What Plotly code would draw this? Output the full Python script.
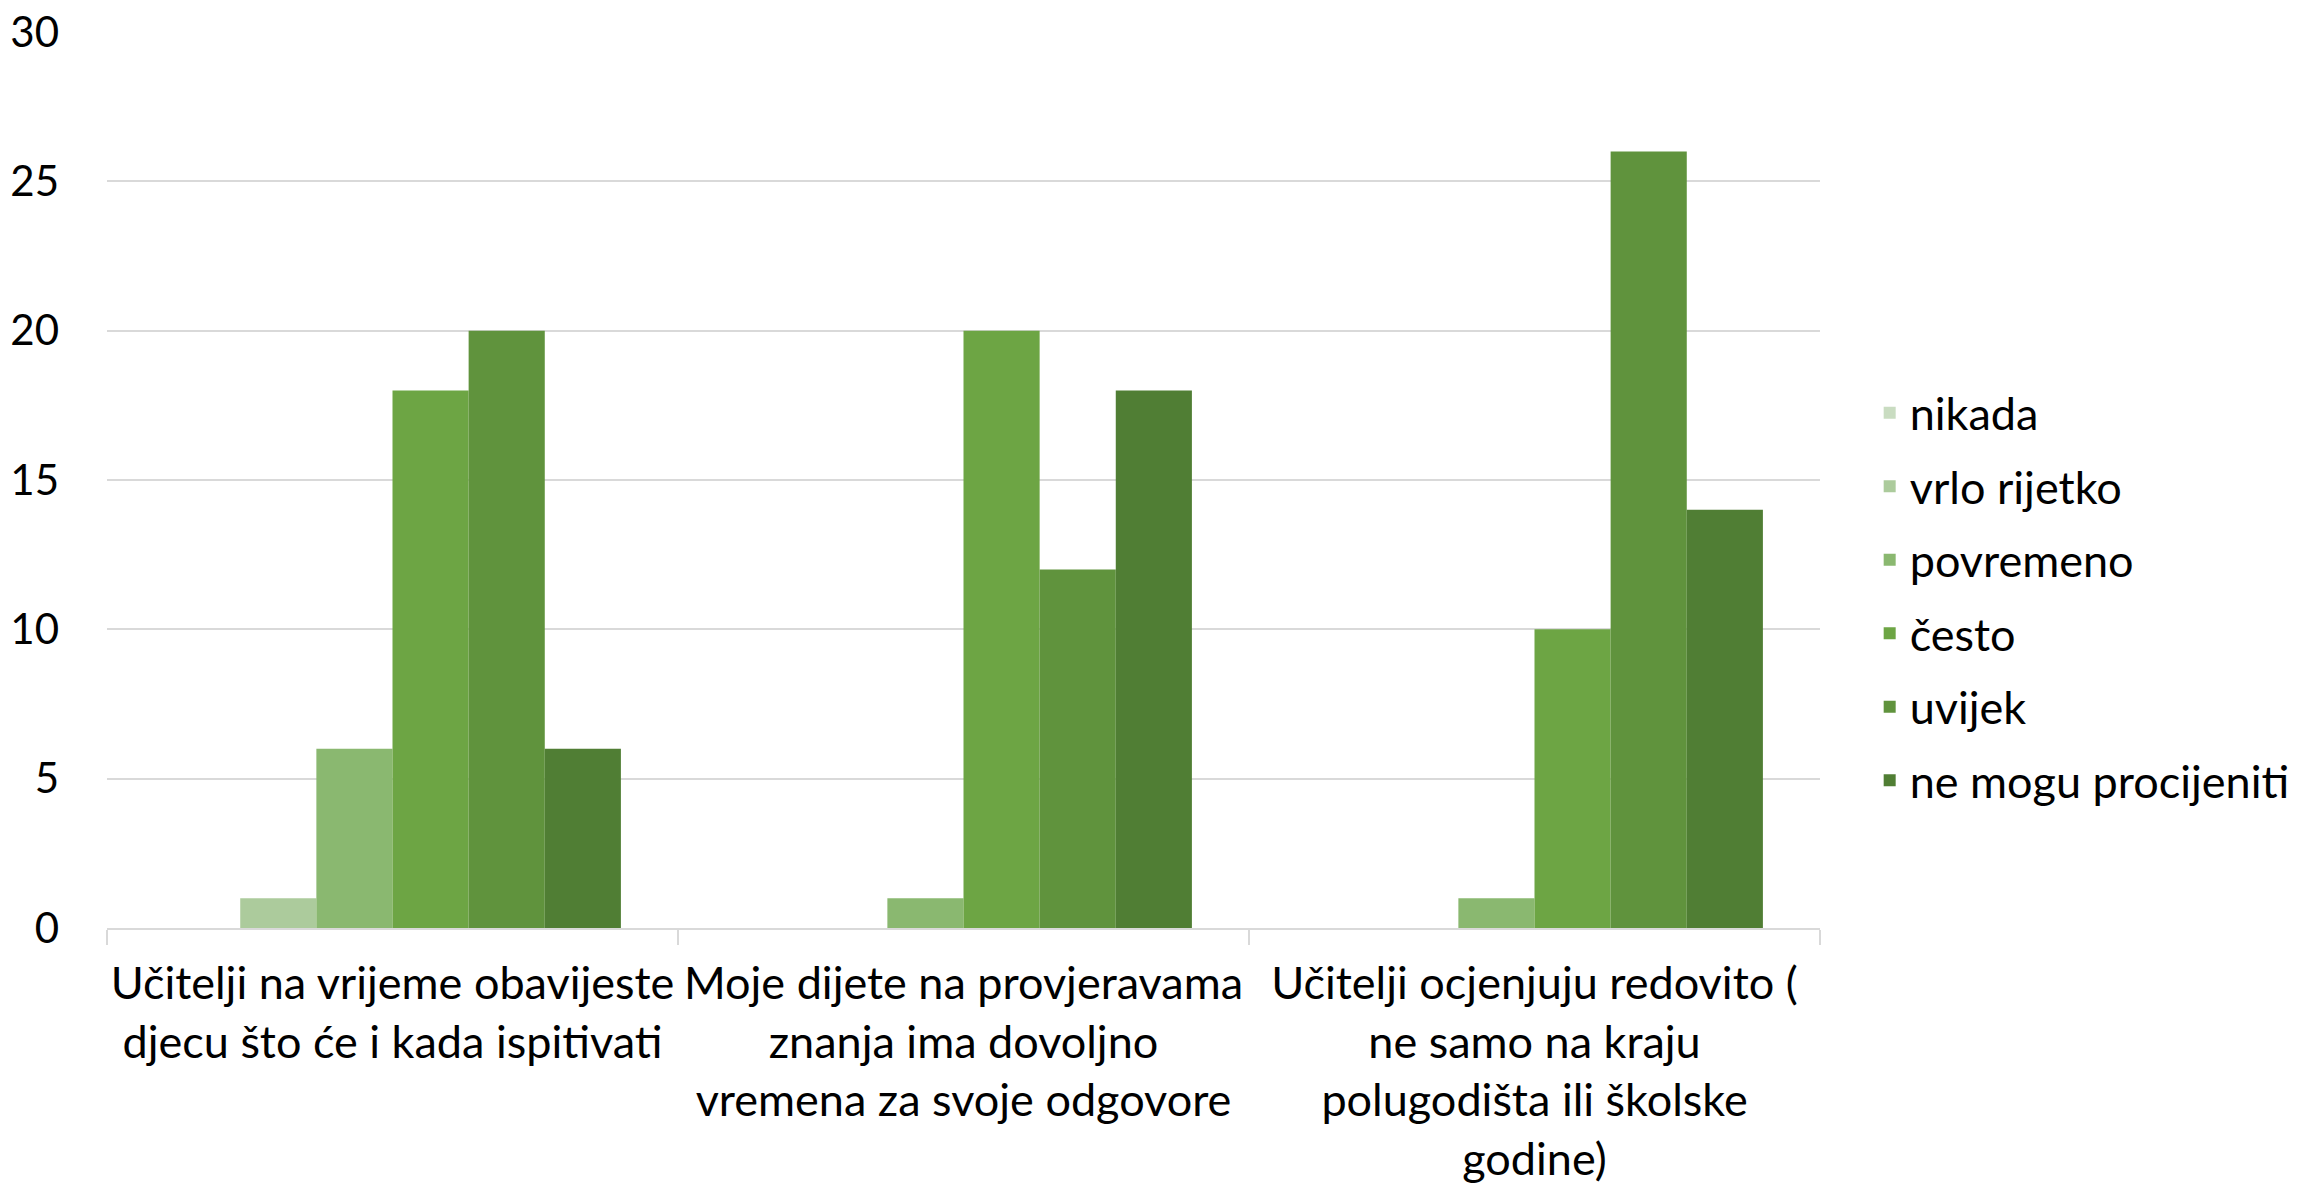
import plotly.graph_objects as go

categories = [
    "Učitelji na vrijeme obavijeste<br>djecu što će i kada ispitivati",
    "Moje dijete na provjeravama<br>znanja ima dovoljno<br>vremena za svoje odgovore",
    "Učitelji ocjenjuju redovito (<br>ne samo na kraju<br>polugodišta ili školske<br>godine)",
]

nikada = [0, 0, 0]
vrlo_rijetko = [1, 0, 0]
povremeno = [6, 1, 1]
cesto = [18, 20, 10]
uvijek = [20, 12, 26]
ne_mogu = [6, 18, 14]

series_names = ["nikada", "vrlo rijetko", "povremeno", "često", "uvijek", "ne mogu procijeniti"]
series_values = [nikada, vrlo_rijetko, povremeno, cesto, uvijek, ne_mogu]
colors = ["#C9DCC1", "#ACCB9C", "#8AB870", "#6DA544", "#60933D", "#507E34"]

y_ticks = [0, 5, 10, 15, 20, 25, 30]

FONT = "Lato"
FS = 45

fig = go.Figure()
for i, (name, vals, col) in enumerate(zip(series_names, series_values, colors)):
    fig.add_trace(go.Bar(
        x=categories, y=vals, name=name,
        marker=dict(color=col, line=dict(width=0)),
        legendgroup=f"g{i}",
    ))

fig.update_layout(
    width=2316, height=1192,
    paper_bgcolor="white", plot_bgcolor="white",
    barmode="group", bargap=0.2, bargroupgap=0,
    margin=dict(l=99, r=504, t=24, b=272, autoexpand=False),
    font=dict(family=FONT, size=FS, color="black"),
    showlegend=True,
    legend=dict(
        x=1.029, xanchor="left", y=0.370, yanchor="middle",
        font=dict(family=FONT, size=FS, color="black"),
        traceorder="grouped", tracegroupgap=12,
        itemwidth=30,
        bgcolor="rgba(0,0,0,0)",
    ),
)
fig.update_xaxes(
    type="category",
    showline=True, linecolor="#D9D9D9", linewidth=2,
    ticks="outside", tickson="boundaries", ticklen=15, tickcolor="#D9D9D9", tickwidth=2,
    showgrid=False, tickangle=0, automargin=False,
    ticklabelstandoff=15,
    tickfont=dict(family=FONT, size=FS, color="black"),
)
fig.update_yaxes(
    range=[0, 30], tickvals=y_ticks, ticktext=[str(v) for v in y_ticks],
    showgrid=True, gridcolor="#D9D9D9", gridwidth=2,
    zeroline=False, showline=False, ticks="",
    ticklabelstandoff=47, ticklabeloverflow="allow", automargin=False,
    tickfont=dict(family=FONT, size=42, color="black"),
)

fig.write_html("out.html")
